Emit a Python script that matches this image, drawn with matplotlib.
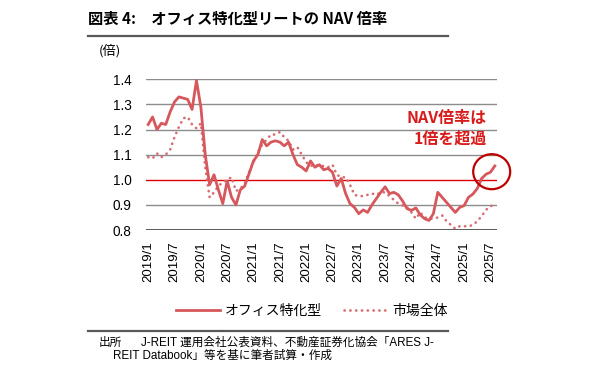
import matplotlib
matplotlib.use("Agg")
import matplotlib.pyplot as plt
from matplotlib.patches import Ellipse
from matplotlib.lines import Line2D

plt.rcParams['font.family'] = ['Liberation Sans', 'Noto Sans CJK JP', 'DejaVu Sans']

# monthly, 2019/1 .. 2025/8
office = [1.22, 1.25, 1.20, 1.225, 1.22, 1.27, 1.31, 1.33, 1.325, 1.32,
          1.28, 1.395, 1.29, 1.10, 0.98, 1.02, 0.96, 0.905, 0.995, 0.93,
          0.90, 0.96, 0.975, 1.025, 1.075, 1.10, 1.16, 1.135, 1.15, 1.155,
          1.15, 1.135, 1.15, 1.10, 1.06, 1.05, 1.035, 1.075, 1.05, 1.06,
          1.04, 1.045, 1.03, 0.975, 1.005, 0.945, 0.905, 0.89, 0.865, 0.88,
          0.87, 0.90, 0.925, 0.95, 0.972, 0.945, 0.95, 0.94, 0.915, 0.885,
          0.878, 0.888, 0.86, 0.845, 0.838, 0.865, 0.95, 0.93, 0.91, 0.89,
          0.87, 0.89, 0.897, 0.93, 0.943, 0.965, 1.005, 1.022, 1.03, 1.055]
market = [1.09, 1.085, 1.105, 1.09, 1.10, 1.12, 1.17, 1.21, 1.245, 1.25,
          1.22, 1.205, 1.225, 1.05, 0.93, 0.95, 0.975, 0.99, 1.00, 1.01,
          0.955, 0.965, 0.985, 1.03, 1.07, 1.11, 1.14, 1.16, 1.18, 1.18,
          1.19, 1.17, 1.155, 1.12, 1.13, 1.10, 1.07, 1.055, 1.06, 1.055,
          1.055, 1.05, 1.06, 1.02, 1.01, 1.01, 0.98, 0.94, 0.935, 0.935,
          0.94, 0.945, 0.94, 0.95, 0.95, 0.935, 0.92, 0.905, 0.897, 0.89,
          0.87, 0.845, 0.87, 0.85, 0.845, 0.845, 0.85, 0.858, 0.835, 0.82,
          0.805, 0.815, 0.815, 0.815, 0.82, 0.835, 0.855, 0.88, 0.895, 0.90]
tick_pos = list(range(0, 80, 6))
tick_labels = ['2019/1', '2019/7', '2020/1', '2020/7', '2021/1', '2021/7',
               '2022/1', '2022/7', '2023/1', '2023/7', '2024/1', '2024/7',
               '2025/1', '2025/7']
yticks = [0.8, 0.9, 1.0, 1.1, 1.2, 1.3, 1.4]
series_names = ['オフィス特化型', '市場全体']

W, H = 600, 374
fig = plt.figure(figsize=(6.0, 3.74), dpi=100)
def fx(px): return px / W
def fy(py): return 1 - py / H

cjk = ['Noto Sans CJK JP', 'DejaVu Sans']

ax = fig.add_axes([fx(146), fy(230), fx(497) - fx(146), fy(79.3) - fy(230)])
x = list(range(len(office)))
c_solid = '#D6575C'
c_dot = '#D96C71'
ax.plot(x, office, color=c_solid, lw=2.0, solid_joinstyle='round', zorder=4, clip_on=False,
        label=series_names[0])
ax.plot(x, market, color=c_dot, lw=1.9, linestyle=(0, (0.1, 2.1)), dash_capstyle='round',
        zorder=3, clip_on=False, label=series_names[1])

ax.set_xlim(-0.5, 79.5)
ax.set_ylim(0.8, 1.4)
for v in yticks:
    if abs(v - 1.0) < 1e-9:
        ax.axhline(v, color='#E00000', lw=1.0, zorder=2)
    elif abs(v - 0.8) < 1e-9:
        ax.axhline(v, color='#595959', lw=1.4, zorder=2)
    else:
        ax.axhline(v, color='#8C8C8C', lw=1.0, zorder=1)
ax.set_yticks(yticks)
ax.set_yticklabels([f'{v:.1f}' for v in yticks], fontsize=9.8)
ax.set_xticks(tick_pos)
ax.set_xticklabels(tick_labels, rotation=90, fontsize=9.5)
ax.tick_params(axis='y', length=0, pad=10.5, colors='#000000')
ax.tick_params(axis='x', length=0, pad=8, colors='#000000')
for s in ax.spines.values():
    s.set_visible(False)

# title and rules
fig.text(fx(88), fy(19), '図表 4:　オフィス特化型リートの NAV 倍率', fontsize=11,
         fontweight='bold', family=cjk, va='center', ha='left')
fig.add_artist(Line2D([fx(88), fx(448)], [fy(36), fy(36)], color='#595959', lw=1.6))
fig.text(fx(99), fy(51), '(倍)', fontsize=9.5, va='center', ha='left', family=cjk)

# annotation
fig.text(fx(487), fy(118), 'NAV倍率は', fontsize=11.5, fontweight='bold', color='#D91A1A',
         ha='right', va='center', family=cjk)
fig.text(fx(487), fy(139), '1倍を超過', fontsize=11.5, fontweight='bold', color='#D91A1A',
         ha='right', va='center', family=cjk)
fig.add_artist(Ellipse((fx(491.7), fy(171.7)), width=37 / W, height=35 / H,
                       transform=fig.transFigure, fill=False, edgecolor='#C00000', lw=1.6,
                       zorder=10))

# legend
leg = ax.legend(loc='center', bbox_to_anchor=(fx(312), fy(311)), bbox_transform=fig.transFigure,
                ncol=2, frameon=False, handlelength=3.2, handletextpad=0.3,
                columnspacing=1.6, prop={'family': cjk, 'size': 10})

# source
fig.add_artist(Line2D([fx(88), fx(448)], [fy(330.7), fy(330.7)], color='#595959', lw=1.6))
fig.text(fx(99), fy(343), '出所', fontsize=8.4, va='center', ha='left')
fig.text(fx(141), fy(343), 'J-REIT 運用会社公表資料、不動産証券化協会「ARES J-', fontsize=8.4,
         va='center', ha='left')
fig.text(fx(113), fy(356), 'REIT Databook」等を基に筆者試算・作成', fontsize=8.4,
         va='center', ha='left')

fig.savefig('out.png', dpi=100)
